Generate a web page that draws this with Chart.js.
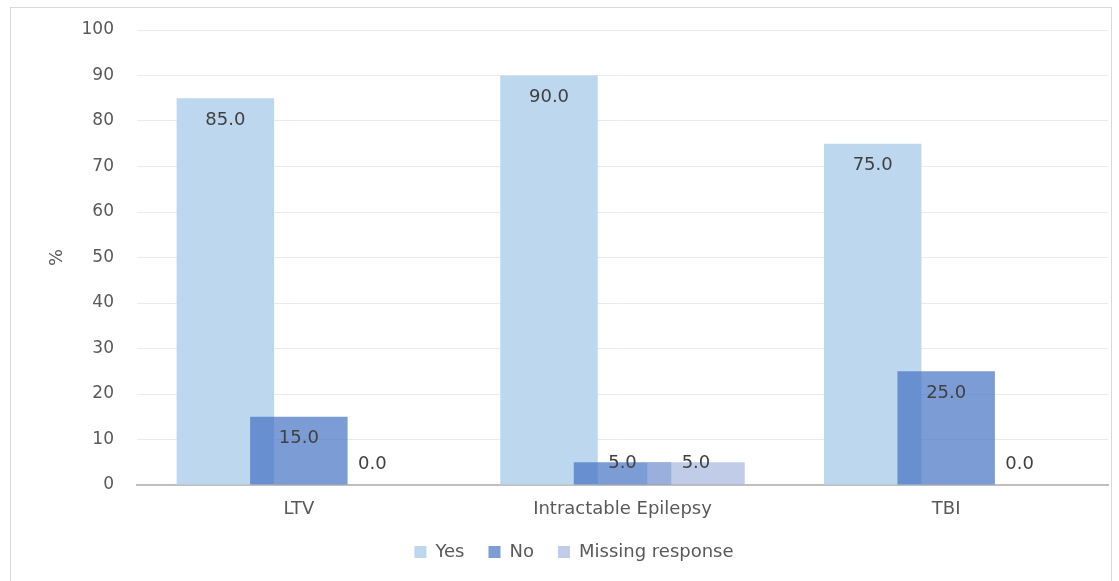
<!DOCTYPE html>
<html>
<head>
<meta charset="utf-8">
<title>Responses by group</title>
<script src="https://cdn.jsdelivr.net/npm/chart.js@4.4.0/dist/chart.umd.min.js"></script>
<style>
	html, body { margin: 0; padding: 0; background: #fff; }
	#wrap { position: relative; width: 1119px; height: 581px; }
	#frame { position: absolute; left: 10px; top: 7px; width: 1102px; height: 580px; border: 1px solid #d9d9d9; box-sizing: border-box; }
	#myChart { position: absolute; left: 0; top: 0; }
</style>
</head>
<body>
<div id="wrap">
	<div id="frame"></div>
	<canvas id="myChart" width="1119" height="581"></canvas>
</div>
<script>
var categories = ['LTV', 'Intractable Epilepsy', 'TBI'];
var yesValues = [85.0, 90.0, 75.0];
var noValues = [15.0, 5.0, 25.0];
var missingValues = [0.0, 5.0, 0.0];
var seriesNames = ['Yes', 'No', 'Missing response'];
var yMin = 0, yMax = 100, yStep = 10;

Chart.defaults.font.family = "'DejaVu Sans', sans-serif";

// bars overlap: draw first dataset first so later ones sit on top
var drawOrder = {
	id: 'drawOrder',
	beforeDatasetsDraw: function(chart) {
		chart.getSortedVisibleDatasetMetas().forEach(function(meta) {
			meta.controller.draw();
		});
		return false;
	}
};

// value labels, inside the top of each bar
var valueLabels = {
	id: 'valueLabels',
	afterDraw: function(chart) {
		var ctx = chart.ctx;
		ctx.save();
		ctx.font = "18px 'DejaVu Sans'";
		ctx.fillStyle = '#404040';
		ctx.textAlign = 'center';
		ctx.textBaseline = 'middle';
		chart.data.datasets.forEach(function(ds, i) {
			chart.getDatasetMeta(i).data.forEach(function(bar, j) {
				var y = Math.min(bar.y + 22, bar.base - 21);
				ctx.fillText(ds.data[j].toFixed(1), bar.x, y);
			});
		});
		ctx.restore();
	}
};

var ctx = document.getElementById('myChart').getContext('2d');
var chart = new Chart(ctx, {
	type: 'bar',
	data: {
		labels: categories,
		datasets: [{
			label: seriesNames[0],
			data: yesValues,
			backgroundColor: '#BDD7EE',
			borderWidth: 0
		}, {
			label: seriesNames[1],
			data: noValues,
			backgroundColor: 'rgba(68, 114, 196, 0.7)',
			borderWidth: 0
		}, {
			label: seriesNames[2],
			data: missingValues,
			backgroundColor: 'rgba(166, 182, 222, 0.7)',
			borderWidth: 0
		}]
	},
	options: {
		responsive: false,
		animation: false,
		categoryPercentage: 0.681,
		barPercentage: 1.327,
		layout: {
			padding: { left: 40, right: 11, top: 30, bottom: 10 }
		},
		scales: {
			x: {
				grid: { display: false, drawTicks: false },
				border: { color: '#BFBFBF', width: 2 },
				ticks: { color: '#595959', font: { size: 18 }, padding: 14 },
				afterFit: function(scale) { scale.height = 34; }
			},
			y: {
				min: yMin,
				max: yMax,
				grid: {
					drawTicks: false,
					color: function(c) { return c.tick && c.tick.value === 0 ? 'rgba(0,0,0,0)' : '#EBEBEB'; }
				},
				border: { display: false },
				ticks: { stepSize: yStep, color: '#595959', font: { size: 17 }, padding: 23 },
				title: {
					display: true,
					text: '%',
					color: '#595959',
					font: { size: 18 },
					padding: { top: 7, bottom: 0 }
				},
				afterFit: function(scale) {
					scale.width = 97;
					scale.paddingTop = 10;
					scale.paddingBottom = 10;
				}
			}
		},
		plugins: {
			legend: {
				position: 'bottom',
				labels: {
					boxWidth: 12,
					boxHeight: 12,
					padding: 24,
					color: '#595959',
					font: { size: 18 }
				}
			},
			tooltip: { enabled: false }
		}
	},
	plugins: [drawOrder, valueLabels]
});
</script>
</body>
</html>
